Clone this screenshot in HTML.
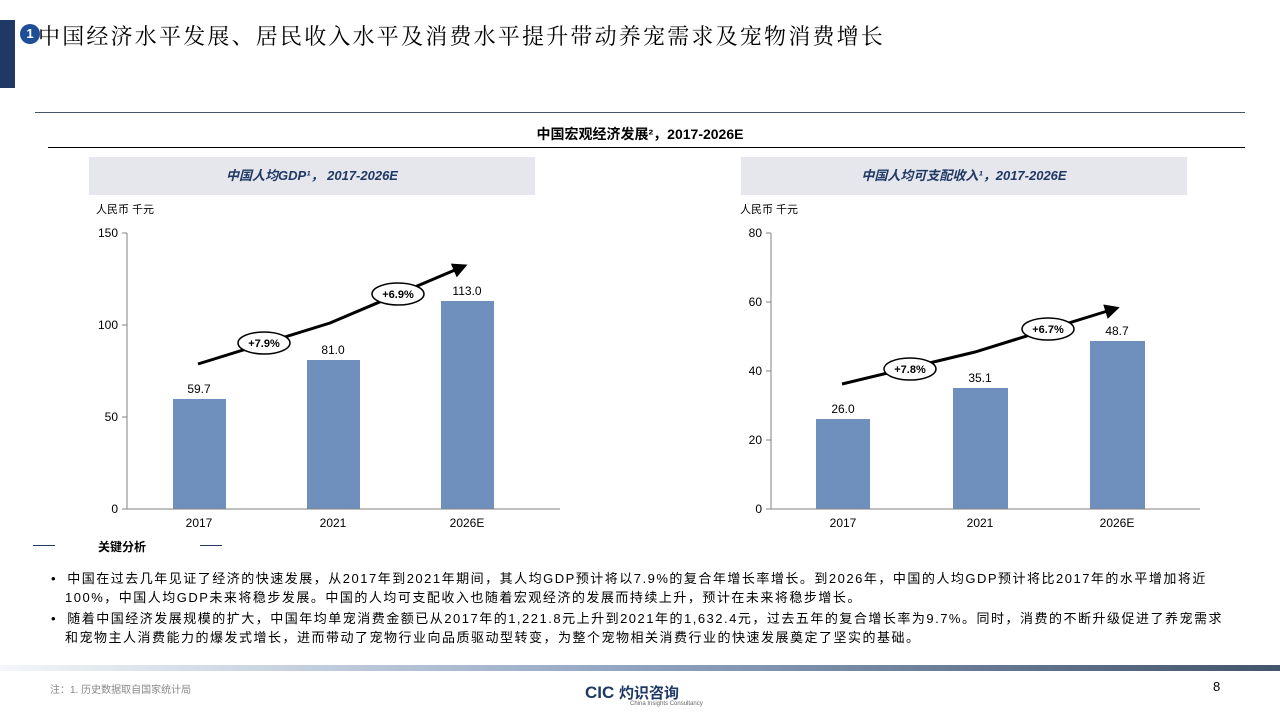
<!DOCTYPE html><html><head><meta charset="utf-8"><style>
body{margin:0;width:1280px;height:720px;background:#fff;position:relative;overflow:hidden;font-family:"Liberation Sans","Noto Sans CJK SC",sans-serif}
.a{position:absolute}
</style></head><body>
<div class="a" style="left:0;top:20px;width:15px;height:68px;background:#1f3864"></div>
<div class="a" style="left:20px;top:24px;width:20px;height:20px;border-radius:50%;background:#1f4e99;color:#fff;font-size:13px;font-weight:bold;text-align:center;line-height:20px">1</div>
<div class="a" style="left:38px;top:20px;font-size:22px;font-family:'Noto Serif CJK SC',serif;color:#000;letter-spacing:2.2px">中国经济水平发展、居民收入水平及消费水平提升带动养宠需求及宠物消费增长</div>
<div class="a" style="left:35px;top:112px;width:1210px;height:1px;background:#44546a"></div>
<div class="a" style="left:0;top:124px;width:1280px;text-align:center;font-size:14px;font-weight:bold">中国宏观经济发展²，2017-2026E</div>
<div class="a" style="left:48px;top:147px;width:1197px;height:1px;background:#000"></div>
<div class="a" style="left:89px;top:157px;width:446px;height:38px;background:#e6e7ec;text-align:center;line-height:38px;font-size:13px;font-weight:bold;font-style:italic;color:#1f3864">中国人均GDP¹， 2017-2026E</div>
<div class="a" style="left:741px;top:157px;width:446px;height:38px;background:#e6e7ec;text-align:center;line-height:38px;font-size:13px;font-weight:bold;font-style:italic;color:#1f3864">中国人均可支配收入¹，2017-2026E</div>
<div class="a" style="left:96px;top:201px;font-size:11px">人民币 千元</div>
<div class="a" style="left:740px;top:201px;font-size:11px">人民币 千元</div>
<svg class="a" style="left:0;top:0" width="1280" height="720" font-family="Liberation Sans" font-size="12">
<defs><marker id="m" markerWidth="5" markerHeight="5" refX="3" refY="2.5" orient="auto" markerUnits="strokeWidth"><path d="M0,0L5,2.5L0,5z" fill="#000"/></marker></defs>
<g fill="#6f8fbd">
<rect x="173" y="399" width="53" height="110"/><rect x="307" y="360" width="53" height="149"/><rect x="441" y="301" width="53" height="208"/>
<rect x="816" y="419" width="54" height="90"/><rect x="953" y="388" width="55" height="121"/><rect x="1090" y="341" width="55" height="168"/>
</g>
<g stroke="#808080" fill="none"><path d="M127,233V509H560M122,233H127M122,325H127M122,417H127M122,509H127"/>
<path d="M771,233V509H1200M766,233H771M766,302H771M766,371H771M766,440H771M766,509H771"/></g>
<g text-anchor="end"><text x="118" y="237">150</text><text x="118" y="329">100</text><text x="118" y="421">50</text><text x="118" y="513">0</text>
<text x="762" y="237">80</text><text x="762" y="306">60</text><text x="762" y="375">40</text><text x="762" y="444">20</text><text x="762" y="513">0</text></g>
<g text-anchor="middle"><text x="199" y="527">2017</text><text x="333" y="527">2021</text><text x="467" y="527">2026E</text>
<text x="843" y="527">2017</text><text x="980" y="527">2021</text><text x="1117" y="527">2026E</text>
<text x="199" y="393">59.7</text><text x="333" y="354">81.0</text><text x="467" y="295">113.0</text>
<text x="843" y="413">26.0</text><text x="980" y="382">35.1</text><text x="1117" y="335">48.7</text></g>
<g stroke="#000" stroke-width="3" fill="none"><polyline points="198,364 330,323 462,267" marker-end="url(#m)"/><polyline points="842,384 975,352 1114,309" marker-end="url(#m)"/></g>
<g stroke="#000" stroke-width="1.5" fill="#fff"><ellipse cx="264" cy="343" rx="26" ry="11"/><ellipse cx="398" cy="294" rx="26" ry="11"/><ellipse cx="910" cy="369" rx="26" ry="11"/><ellipse cx="1048" cy="329" rx="26" ry="11"/></g>
<g text-anchor="middle" font-weight="bold" font-size="11"><text x="264" y="347">+7.9%</text><text x="398" y="298">+6.9%</text><text x="910" y="373">+7.8%</text><text x="1048" y="333">+6.7%</text></g>
</svg>
<div class="a" style="left:33px;top:545px;width:22px;height:1px;background:#1f3864"></div>
<div class="a" style="left:200px;top:545px;width:22px;height:1px;background:#1f3864"></div>
<div class="a" style="left:98px;top:538px;font-size:12px;font-weight:bold">关键分析</div>
<div class="a" style="left:35px;top:569px;width:1240px;font-size:13px;line-height:19px;color:#000;letter-spacing:1.5px;white-space:nowrap">
<div style="padding-left:30px;text-indent:-14px">•&nbsp;&nbsp;中国在过去几年见证了经济的快速发展，从2017年到2021年期间，其人均GDP预计将以7.9%的复合年增长率增长。到2026年，中国的人均GDP预计将比2017年的水平增加将近<br>100%，中国人均GDP未来将稳步发展。中国的人均可支配收入也随着宏观经济的发展而持续上升，预计在未来将稳步增长。</div>
<div style="padding-left:30px;text-indent:-14px;margin-top:2px">•&nbsp;&nbsp;随着中国经济发展规模的扩大，中国年均单宠消费金额已从2017年的1,221.8元上升到2021年的1,632.4元，过去五年的复合增长率为9.7%。同时，消费的不断升级促进了养宠需求<br>和宠物主人消费能力的爆发式增长，进而带动了宠物行业向品质驱动型转变，为整个宠物相关消费行业的快速发展奠定了坚实的基础。</div></div>
<div class="a" style="left:0;top:665px;width:1280px;height:6px;background:linear-gradient(90deg,#f4f6f9,#8fa3c0 50%,#44546a)"></div>
<div class="a" style="left:50px;top:681px;font-size:10px;color:#888">注：1. 历史数据取自国家统计局</div>
<div class="a" style="left:585px;top:682px;font-size:17px;color:#1f3864;font-weight:bold">CIC <span style="font-size:15px">灼识咨询</span></div>
<div class="a" style="left:630px;top:701px;font-size:6px;color:#666">China Insights Consultancy</div>
<div class="a" style="left:1213px;top:679px;font-size:13px">8</div>
</body></html>
